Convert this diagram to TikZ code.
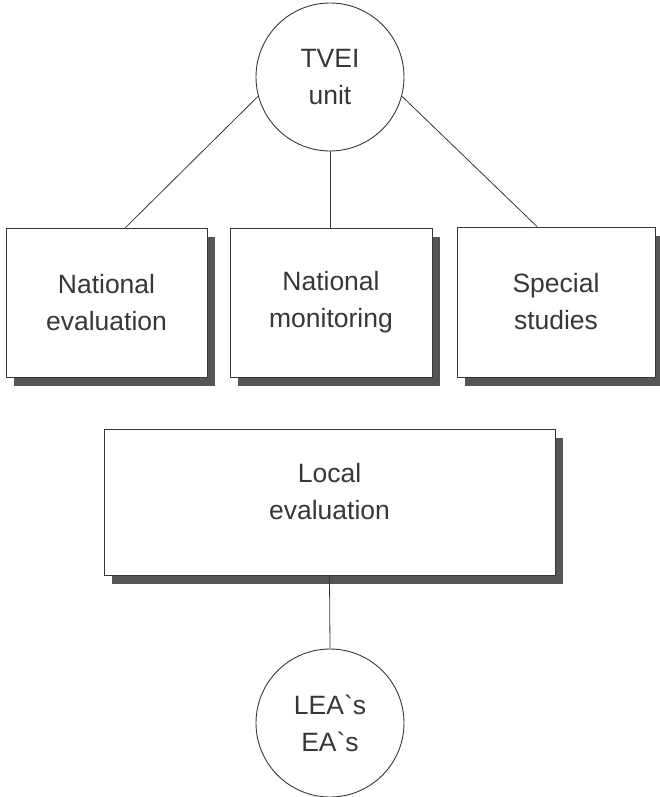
\documentclass[tikz,border=0pt]{standalone}
\usepackage{fontspec}
\setmainfont{Liberation Sans}[Ligatures=TeXOff]
\usetikzlibrary{positioning, shadows}
\definecolor{inkgray}{RGB}{55,55,55}
\definecolor{shadegray}{RGB}{85,85,85}

\begin{document}
\begin{tikzpicture}[x=1pt, y=-1pt,
  every node/.style={text=inkgray, align=center, font={\fontsize{26.5}{37}\selectfont}},
  unitcircle/.style={draw=inkgray, line width=0.9pt, circle, minimum size=148pt, inner sep=0pt},
  evalbox/.style={draw=inkgray, line width=0.9pt, fill=white, inner sep=0pt,
    drop shadow={shadow xshift=8pt, shadow yshift=-9pt, fill=shadegray, opacity=1}},
  link/.style={draw=inkgray, line width=0.8pt}]
  \useasboundingbox (0,0) rectangle (660,797);
  \node[unitcircle] (tvei) at (330,77) {TVEI\\unit};
  \node[evalbox, minimum width=201pt, minimum height=149pt] (natEval) at (106.5,302.5) {National\\evaluation};
  \node[evalbox, minimum width=202pt, minimum height=149pt] (natMon) at (331,302.5) {National\\monitoring};
  \node[evalbox, minimum width=198pt, minimum height=150pt] (special) at (556,302) {Special\\studies};
  \node[evalbox, minimum width=451pt, minimum height=146pt] (localEval) at (329.5,502) {Local\\evaluation\\[-15pt]};
  \node[unitcircle] (lea) at (330,723) {LEA`s\\EA`s};
  % connectors
  \draw[link] (tvei.195) -- ([xshift=19pt]natEval.north);
  \draw[link] (tvei.south) -- (tvei.south |- natMon.north);
  \draw[link] (tvei.345) -- ([xshift=-19pt]special.north);
  \draw[link] (localEval.south) -- (lea.north);
\end{tikzpicture}
\end{document}
